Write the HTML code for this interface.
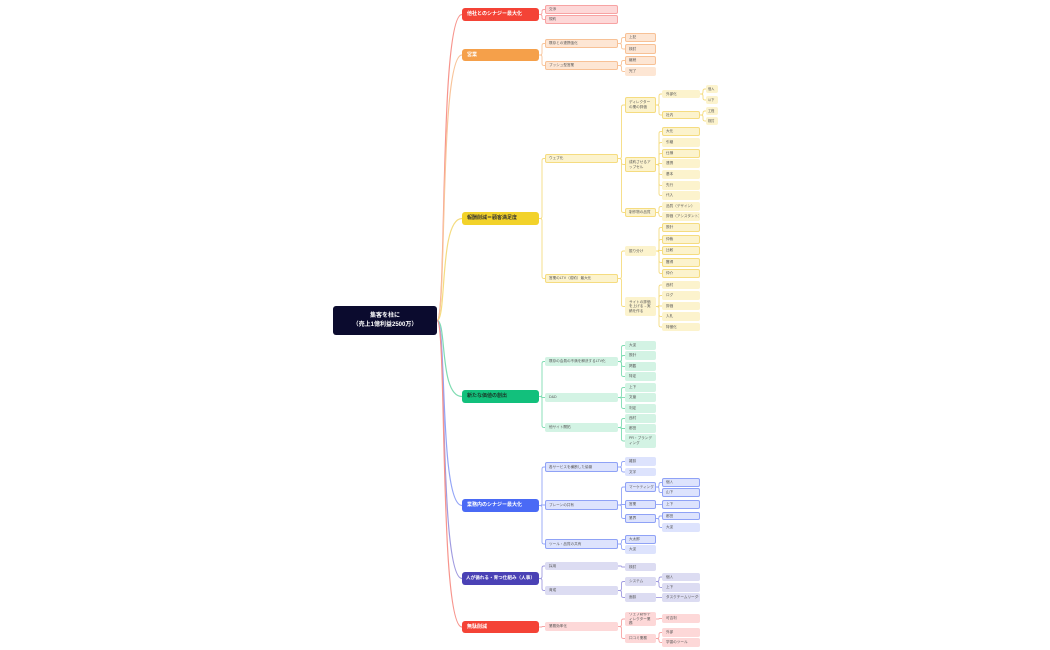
<!DOCTYPE html>
<html><head><meta charset="utf-8">
<style>
html,body{margin:0;padding:0;background:#fff;width:1050px;height:650px;overflow:hidden}
body{position:relative;font-family:"Liberation Sans","Noto Sans CJK JP",sans-serif}
svg{position:absolute;left:0;top:0}
.n{position:absolute;box-sizing:border-box;display:flex;align-items:center;padding:0 3px;font-size:3.6px;line-height:4.6px;color:#555;border-radius:2px;border:0.7px solid transparent;overflow:hidden;white-space:nowrap}
.w{white-space:normal}
.t{padding:0 1px;font-size:3.2px}
.h{font-size:5px;font-weight:bold;color:#fff;border-radius:3px;padding:0 4px}
.root{background:#0b0b2e;color:#fff;font-size:6px;font-weight:bold;justify-content:center;text-align:center;line-height:9px;border-radius:3px;white-space:normal}
.A{background:#fdd8d8;border-color:#f7a3a3}
.B{background:#fde6d4;border-color:#f7c196}
.C{background:#fcf3cd;border-color:#f5dc80}
.C2{background:#fcf3cd}
.D{background:#d3f3e4}
.E{background:#dde3fd;border-color:#8fa2f6}
.E2{background:#dde3fd}
.F{background:#dcdcf2}
.A2{background:#fdd8d8}
.B2{background:#fde6d4}
</style></head><body>
<svg id="s" width="1050" height="650"></svg>

<div class="n root" id="r" style="left:333px;top:306px;width:104px;height:29px">集客を柱に<br>（売上1億利益2500万）</div>

<!-- A -->
<div class="n h" id="A" p="r" c="#f7948c" style="left:462px;top:8px;width:77px;height:13px;background:#f44336">他社とのシナジー最大化</div>
<div class="n A" p="A" c="#f7a3a3" style="left:545px;top:5px;width:73px;height:9px">交渉</div>
<div class="n A" p="A" c="#f7a3a3" style="left:545px;top:15px;width:73px;height:9px">規約</div>

<!-- B -->
<div class="n h" id="B" p="r" c="#f8c49a" style="left:462px;top:49px;width:77px;height:12px;background:#f5a04a">営業</div>
<div class="n B" id="B1" p="B" c="#f8c49a" style="left:545px;top:39px;width:73px;height:9px">既存との連携強化</div>
<div class="n B" id="B2" p="B" c="#f8c49a" style="left:545px;top:61px;width:73px;height:9px">プッシュ型営業</div>
<div class="n B" p="B1" c="#f8c49a" style="left:625px;top:33px;width:31px;height:9px">上記</div>
<div class="n B" p="B1" c="#f8c49a" style="left:625px;top:44px;width:31px;height:10px">検討</div>
<div class="n B" p="B2" c="#f8c49a" style="left:625px;top:56px;width:31px;height:9px">継続</div>
<div class="n B2" p="B2" c="#f8c49a" style="left:625px;top:67px;width:31px;height:9px">完了</div>

<!-- C -->
<div class="n h" id="C" p="r" c="#f5dc80" style="left:462px;top:212px;width:77px;height:13px;background:#f2d22a;color:#333">報酬削減＝顧客満足度</div>
<div class="n C" id="C1" p="C" c="#f5dc80" style="left:545px;top:154px;width:73px;height:9px">ウェブ化</div>
<div class="n C" id="C2" p="C" c="#f5dc80" style="left:545px;top:274px;width:73px;height:9px">営業のLTV（成約）最大化</div>
<div class="n C w" id="C11" p="C1" c="#f5dc80" style="left:625px;top:97px;width:31px;height:16px">ディレクターの業の評価</div>
<div class="n C w" id="C12" p="C1" c="#f5dc80" style="left:625px;top:157px;width:31px;height:15px">成約させるアップセル</div>
<div class="n C" id="C13" p="C1" c="#f5dc80" style="left:625px;top:208px;width:31px;height:9px">制作物の品質</div>
<div class="n C2" id="C111" p="C11" c="#f5dc80" style="left:662px;top:90px;width:38px;height:8px">外部化</div>
<div class="n C" id="C112" p="C11" c="#f5dc80" style="left:662px;top:111px;width:38px;height:8px">社内</div>
<div class="n C2 t" p="C111" c="#f5dc80" style="left:706px;top:85px;width:12px;height:8px">個人</div>
<div class="n C2 t" p="C111" c="#f5dc80" style="left:706px;top:96px;width:12px;height:8px">以下</div>
<div class="n C2 t" p="C112" c="#f5dc80" style="left:706px;top:107px;width:12px;height:8px">工程</div>
<div class="n C2 t" p="C112" c="#f5dc80" style="left:706px;top:117px;width:12px;height:8px">検討</div>
<div class="n C" p="C12" c="#f5dc80" style="left:662px;top:127px;width:38px;height:9px">大化</div>
<div class="n C2" p="C12" c="#f5dc80" style="left:662px;top:138px;width:38px;height:9px">引継</div>
<div class="n C" p="C12" c="#f5dc80" style="left:662px;top:149px;width:38px;height:9px">仕様</div>
<div class="n C2" p="C12" c="#f5dc80" style="left:662px;top:159px;width:38px;height:9px">連携</div>
<div class="n C2" p="C12" c="#f5dc80" style="left:662px;top:170px;width:38px;height:9px">基本</div>
<div class="n C2" p="C12" c="#f5dc80" style="left:662px;top:181px;width:38px;height:9px">先行</div>
<div class="n C2" p="C12" c="#f5dc80" style="left:662px;top:191px;width:38px;height:9px">代入</div>
<div class="n C2" p="C13" c="#f5dc80" style="left:662px;top:202px;width:38px;height:9px">品質（デザイン）</div>
<div class="n C2" p="C13" c="#f5dc80" style="left:662px;top:212px;width:38px;height:9px">評価（アシスタント）</div>
<div class="n C2" id="C21" p="C2" c="#f5dc80" style="left:625px;top:246px;width:31px;height:10px">振り分け</div>
<div class="n C2 w" id="C22" p="C2" c="#f5dc80" style="left:625px;top:297px;width:31px;height:19px">サイトの評価を上げる→実績を作る</div>
<div class="n C" p="C21" c="#f5dc80" style="left:662px;top:223px;width:38px;height:9px">設計</div>
<div class="n C" p="C21" c="#f5dc80" style="left:662px;top:235px;width:38px;height:9px">仲裁</div>
<div class="n C" p="C21" c="#f5dc80" style="left:662px;top:246px;width:38px;height:9px">比較</div>
<div class="n C" p="C21" c="#f5dc80" style="left:662px;top:258px;width:38px;height:9px">獲得</div>
<div class="n C" p="C21" c="#f5dc80" style="left:662px;top:269px;width:38px;height:9px">仲介</div>
<div class="n C2" p="C22" c="#f5dc80" style="left:662px;top:281px;width:38px;height:8px">西村</div>
<div class="n C2" p="C22" c="#f5dc80" style="left:662px;top:291px;width:38px;height:9px">ログ</div>
<div class="n C2" p="C22" c="#f5dc80" style="left:662px;top:302px;width:38px;height:8px">評価</div>
<div class="n C2" p="C22" c="#f5dc80" style="left:662px;top:312px;width:38px;height:9px">入札</div>
<div class="n C2" p="C22" c="#f5dc80" style="left:662px;top:323px;width:38px;height:8px">特徴化</div>

<!-- D -->
<div class="n h" id="D" p="r" c="#7fdcb2" style="left:462px;top:390px;width:77px;height:13px;background:#12c07c;color:#1a3a2a">新たな価値の創出</div>
<div class="n D" id="D1" p="D" c="#7fdcb2" style="left:545px;top:357px;width:73px;height:9px">既存の会員の不満を解決するLTV化</div>
<div class="n D" id="D2" p="D" c="#7fdcb2" style="left:545px;top:393px;width:73px;height:9px">D&amp;D</div>
<div class="n D" id="D3" p="D" c="#7fdcb2" style="left:545px;top:423px;width:73px;height:9px">他サイト開拓</div>
<div class="n D" p="D1" c="#7fdcb2" style="left:625px;top:341px;width:31px;height:9px">大淀</div>
<div class="n D" p="D1" c="#7fdcb2" style="left:625px;top:351px;width:31px;height:9px">設計</div>
<div class="n D" p="D1" c="#7fdcb2" style="left:625px;top:362px;width:31px;height:9px">掲載</div>
<div class="n D" p="D1" c="#7fdcb2" style="left:625px;top:372px;width:31px;height:9px">特定</div>
<div class="n D" p="D2" c="#7fdcb2" style="left:625px;top:383px;width:31px;height:9px">上下</div>
<div class="n D" p="D2" c="#7fdcb2" style="left:625px;top:393px;width:31px;height:9px">文章</div>
<div class="n D" p="D2" c="#7fdcb2" style="left:625px;top:404px;width:31px;height:9px">判定</div>
<div class="n D" p="D3" c="#7fdcb2" style="left:625px;top:414px;width:31px;height:9px">西村</div>
<div class="n D" p="D3" c="#7fdcb2" style="left:625px;top:424px;width:31px;height:9px">都田</div>
<div class="n D w" p="D3" c="#7fdcb2" style="left:625px;top:434px;width:31px;height:14px">PR・ブランディング</div>

<!-- E -->
<div class="n h" id="E" p="r" c="#93a5f7" style="left:462px;top:499px;width:77px;height:13px;background:#4a6af5">業務内のシナジー最大化</div>
<div class="n E" id="E1" p="E" c="#93a5f7" style="left:545px;top:462px;width:73px;height:10px">各サービスを横断した協働</div>
<div class="n E" id="E2" p="E" c="#93a5f7" style="left:545px;top:500px;width:73px;height:10px">ブレーンの共有</div>
<div class="n E" id="E3" p="E" c="#93a5f7" style="left:545px;top:539px;width:73px;height:10px">ツール・品質の共有</div>
<div class="n E2" p="E1" c="#93a5f7" style="left:625px;top:457px;width:31px;height:9px">雑談</div>
<div class="n E2" p="E1" c="#93a5f7" style="left:625px;top:468px;width:31px;height:8px">文字</div>
<div class="n E" id="E21" p="E2" c="#93a5f7" style="left:625px;top:482px;width:31px;height:10px">マーケティング</div>
<div class="n E" id="E22" p="E2" c="#93a5f7" style="left:625px;top:500px;width:31px;height:9px">営業</div>
<div class="n E" id="E23" p="E2" c="#93a5f7" style="left:625px;top:514px;width:31px;height:9px">業界</div>
<div class="n E" p="E3" c="#93a5f7" style="left:625px;top:535px;width:31px;height:9px">大太郎</div>
<div class="n E2" p="E3" c="#93a5f7" style="left:625px;top:545px;width:31px;height:9px">大淀</div>
<div class="n E" p="E21" c="#93a5f7" style="left:662px;top:478px;width:38px;height:9px">個人</div>
<div class="n E" p="E21" c="#93a5f7" style="left:662px;top:488px;width:38px;height:9px">山下</div>
<div class="n E" p="E22" c="#93a5f7" style="left:662px;top:500px;width:38px;height:9px">上下</div>
<div class="n E" p="E23" c="#93a5f7" style="left:662px;top:512px;width:38px;height:8px">都田</div>
<div class="n E2" p="E23" c="#93a5f7" style="left:662px;top:523px;width:38px;height:9px">大淀</div>

<!-- F -->
<div class="n h" id="F" p="r" c="#a09be0" style="left:462px;top:572px;width:77px;height:13px;background:#4a41b5;font-size:4.6px;padding:0 3px">人が循れる・育つ仕組み（人事）</div>
<div class="n F" id="F1" p="F" c="#a09be0" style="left:545px;top:562px;width:73px;height:8px">採用</div>
<div class="n F" id="F2" p="F" c="#a09be0" style="left:545px;top:586px;width:73px;height:9px">育成</div>
<div class="n F" p="F1" c="#a09be0" style="left:625px;top:563px;width:31px;height:8px">検討</div>
<div class="n F" id="F21" p="F2" c="#a09be0" style="left:625px;top:577px;width:31px;height:9px">システム</div>
<div class="n F" id="F22" p="F2" c="#a09be0" style="left:625px;top:593px;width:31px;height:9px">面談</div>
<div class="n F" p="F21" c="#a09be0" style="left:662px;top:573px;width:38px;height:8px">個人</div>
<div class="n F" p="F21" c="#a09be0" style="left:662px;top:583px;width:38px;height:9px">上下</div>
<div class="n F" p="F22" c="#a09be0" style="left:662px;top:593px;width:38px;height:9px">タスクチームリーダー</div>

<!-- G -->
<div class="n h" id="G" p="r" c="#f7948c" style="left:462px;top:621px;width:77px;height:12px;background:#f44336">無駄削減</div>
<div class="n A2" id="G1" p="G" c="#f7a3a3" style="left:545px;top:622px;width:73px;height:9px">業務効率化</div>
<div class="n A2 w" id="G11" p="G1" c="#f7a3a3" style="left:625px;top:612px;width:31px;height:14px">ウェブ制作ディレクター業務</div>
<div class="n A2" id="G12" p="G1" c="#f7a3a3" style="left:625px;top:634px;width:31px;height:9px">口コミ業務</div>
<div class="n A2" p="G11" c="#f7a3a3" style="left:662px;top:614px;width:38px;height:9px">可否判</div>
<div class="n A2" p="G12" c="#f7a3a3" style="left:662px;top:628px;width:38px;height:9px">外部</div>
<div class="n A2" p="G12" c="#f7a3a3" style="left:662px;top:638px;width:38px;height:9px">学習のツール</div>

<script>
(function(){
var s=document.getElementById('s'),out='';
document.querySelectorAll('[p]').forEach(function(el){
  var par=document.getElementById(el.getAttribute('p'));
  var x1=par.offsetLeft+par.offsetWidth,y1=par.offsetTop+par.offsetHeight/2;
  var x2=el.offsetLeft,y2=el.offsetTop+el.offsetHeight/2,d;
  if(par.id==='r'){
    d='M'+x1+','+(y1)+' C'+(x1+10)+','+y1+' '+(x1+2)+','+y2+' '+x2+','+y2;
  } else {
    var xm=x1+(x2-x1)/2, r=Math.min(2,Math.abs(y2-y1)/2), sg=y2>y1?1:-1;
    if(Math.abs(y2-y1)<0.5){d='M'+x1+','+y1+' H'+x2;}
    else d='M'+x1+','+y1+' H'+(xm-r)+' Q'+xm+','+y1+' '+xm+','+(y1+sg*r)+' V'+(y2-sg*r)+' Q'+xm+','+y2+' '+(xm+r)+','+y2+' H'+x2;
  }
  out+='<path d="'+d+'" fill="none" stroke="'+el.getAttribute('c')+'" stroke-width="'+(par.id==='r'?1.2:0.9)+'"/>';
});
s.innerHTML=out;
})();
</script>
</body></html>
